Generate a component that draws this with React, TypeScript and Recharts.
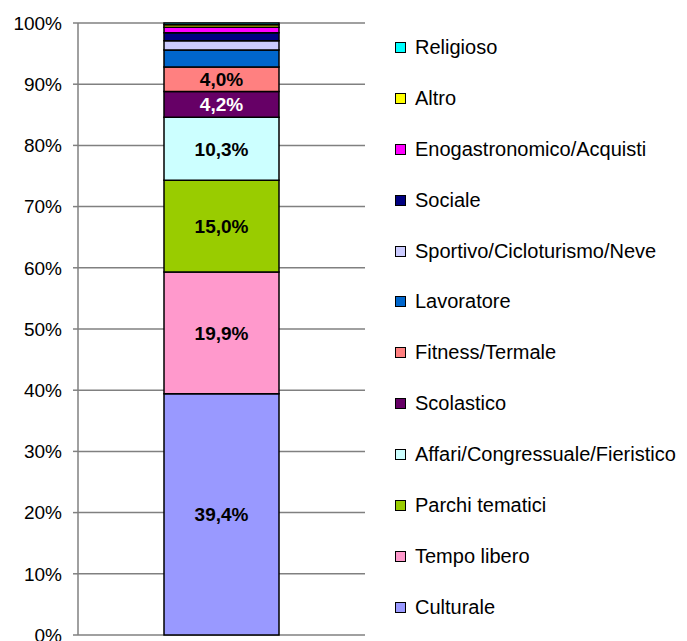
import { BarChart, Bar, XAxis, YAxis, CartesianGrid, LabelList } from 'recharts'

// one stacked column, values in percent (bottom -> top)
const seriesNames = [
  'Culturale',
  'Tempo libero',
  'Parchi tematici',
  'Affari/Congressuale/Fieristico',
  'Scolastico',
  'Fitness/Termale',
  'Lavoratore',
  'Sportivo/Cicloturismo/Neve',
  'Sociale',
  'Enogastronomico/Acquisti',
  'Altro',
  'Religioso',
]
const seriesValues = [39.4, 19.9, 15.0, 10.3, 4.2, 4.0, 2.8, 1.5, 1.3, 0.9, 0.4, 0.3]
const seriesColors = [
  '#9999FF',
  '#FF99CC',
  '#99CC00',
  '#CCFFFF',
  '#660066',
  '#FF8080',
  '#0066CC',
  '#CCCCFF',
  '#000080',
  '#FF00FF',
  '#FFFF00',
  '#00FFFF',
]
// segments that carry a value label, and the label colour
const labelled = [true, true, true, true, true, true, false, false, false, false, false, false]
const labelColors = ['#000', '#000', '#000', '#000', '#fff', '#000']
const yTicks = [0, 10, 20, 30, 40, 50, 60, 70, 80, 90, 100]

const row: Record<string, string | number> = { name: '' }
seriesNames.forEach((n, i) => {
  row[n] = seriesValues[i]
})
const data = [row]

const font = '"Liberation Sans", Arial, sans-serif'
const fmt = (v: number) => `${v.toFixed(1).replace('.', ',')}%`

export default function App() {
  return (
    <div style={{ position: 'absolute', left: 0, top: 0, width: 687, height: 641, background: '#fff', fontFamily: font }}>
      <BarChart width={370} height={641} data={data} margin={{ top: 23, right: 5, bottom: 6, left: 0 }}>
        <CartesianGrid vertical={false} stroke="#808080" strokeWidth={1.5} />
        <XAxis dataKey="name" hide />
        <YAxis
          domain={[0, 100]}
          ticks={yTicks}
          width={78}
          tickFormatter={(v) => `${v}%`}
          tick={{ fontSize: 19, fill: '#000', fontFamily: font }}
          tickSize={5}
          tickMargin={11}
          axisLine={{ stroke: '#808080', strokeWidth: 1.5 }}
          tickLine={{ stroke: '#808080', strokeWidth: 1.5 }}
          interval={0}
        />
        <YAxis
          yAxisId="r"
          orientation="right"
          width={0}
          tick={false}
          tickLine={false}
          axisLine={{ stroke: '#a0a0a0', strokeWidth: 1.5 }}
        />
        {seriesNames.map((n, i) => (
          <Bar
            key={n}
            dataKey={n}
            stackId="a"
            fill={seriesColors[i]}
            stroke="#000"
            strokeWidth={1.5}
            barSize={115}
            isAnimationActive={false}
          >
            {labelled[i] && (
              <LabelList
                dataKey={n}
                position="center"
                formatter={(v: any) => fmt(Number(v))}
                style={{ fontSize: 19, fontWeight: 'bold', fill: labelColors[i], fontFamily: font }}
              />
            )}
          </Bar>
        ))}
      </BarChart>
      <div style={{ position: 'absolute', left: 395, top: 22 }}>
        {seriesNames
          .map((n, i) => ({ n, c: seriesColors[i] }))
          .reverse()
          .map(({ n, c }) => (
            <div key={n} style={{ height: 50.9, display: 'flex', alignItems: 'center', fontSize: 20, color: '#000', whiteSpace: 'nowrap' }}>
              <span
                style={{
                  display: 'inline-block',
                  width: 9,
                  height: 9,
                  background: c,
                  border: '1.5px solid #000',
                  marginRight: 9,
                }}
              />
              {n}
            </div>
          ))}
      </div>
    </div>
  )
}
